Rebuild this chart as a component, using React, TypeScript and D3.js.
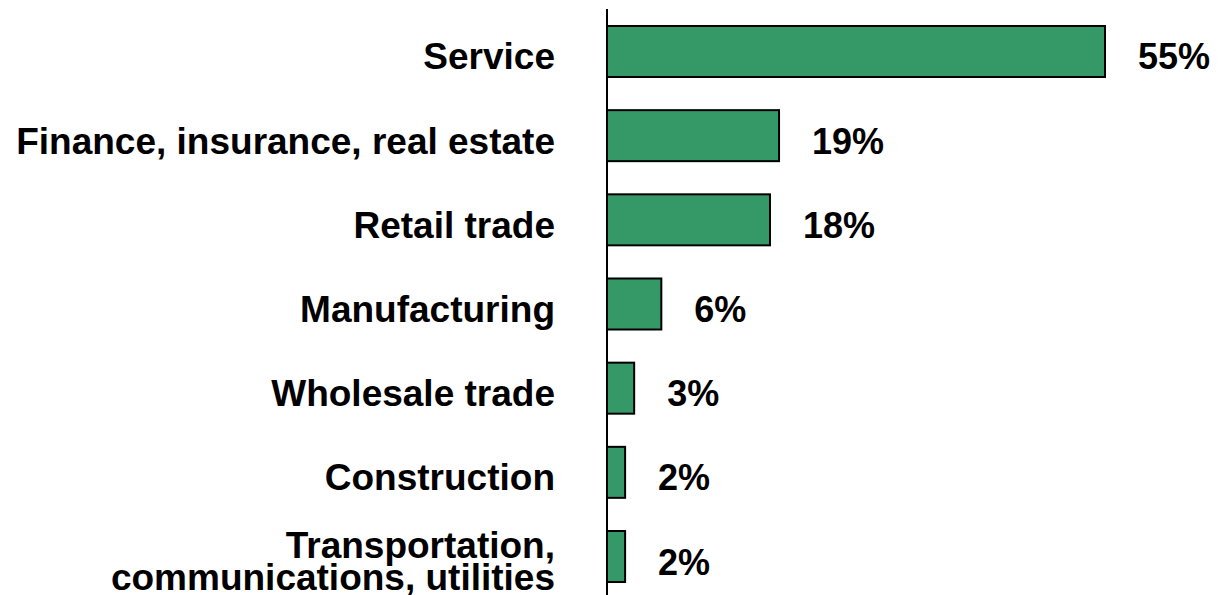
import React from "react";
import * as d3 from "d3";

const categories: string[][] = [
  ["Service"],
  ["Finance, insurance, real estate"],
  ["Retail trade"],
  ["Manufacturing"],
  ["Wholesale trade"],
  ["Construction"],
  ["Transportation,", "communications, utilities"],
];
const values: number[] = [55, 19, 18, 6, 3, 2, 2];
const valueLabels: string[] = ["55%", "19%", "18%", "6%", "3%", "2%", "2%"];

const W = 1219;
const H = 595;
const FONT = "'Liberation Sans', Arial, Helvetica, sans-serif";

export default function App() {
  const ids = categories.map((_, i) => String(i));
  const x = d3.scaleLinear().domain([0, 55]).range([607, 1105]);
  const y = d3
    .scaleBand<string>()
    .domain(ids)
    .range([9.4, 598.6])
    .paddingInner(0.394)
    .paddingOuter(0.197);
  const bw = y.bandwidth();

  return (
    <svg
      width={W}
      height={H}
      style={{ position: "absolute", left: 0, top: 0, background: "#fff" }}
    >
      {values.map((v, i) => {
        const y0 = y(String(i)) as number;
        const cy = y0 + bw / 2;
        const lines = categories[i];
        return (
          <g key={i}>
            <rect
              x={x(0)}
              y={y0}
              width={x(v) - x(0)}
              height={bw}
              fill="#349966"
              stroke="#000"
              strokeWidth={2}
            />
            <text
              x={x(v) + 33}
              y={cy + 18}
              fontFamily={FONT}
              fontWeight="bold"
              fontSize={36}
              fill="#000"
            >
              {valueLabels[i]}
            </text>
            <text
              x={555}
              textAnchor="end"
              fontFamily={FONT}
              fontWeight="bold"
              fontSize={37}
              fill="#000"
            >
              {lines.length === 1 ? (
                <tspan x={555} y={cy + 18}>
                  {lines[0]}
                </tspan>
              ) : (
                lines.map((l, k) => (
                  <tspan key={k} x={555} y={cy + 1 + k * 32}>
                    {l}
                  </tspan>
                ))
              )}
            </text>
          </g>
        );
      })}
      <line x1={x(0)} x2={x(0)} y1={9} y2={H} stroke="#000" strokeWidth={2} />
    </svg>
  );
}
